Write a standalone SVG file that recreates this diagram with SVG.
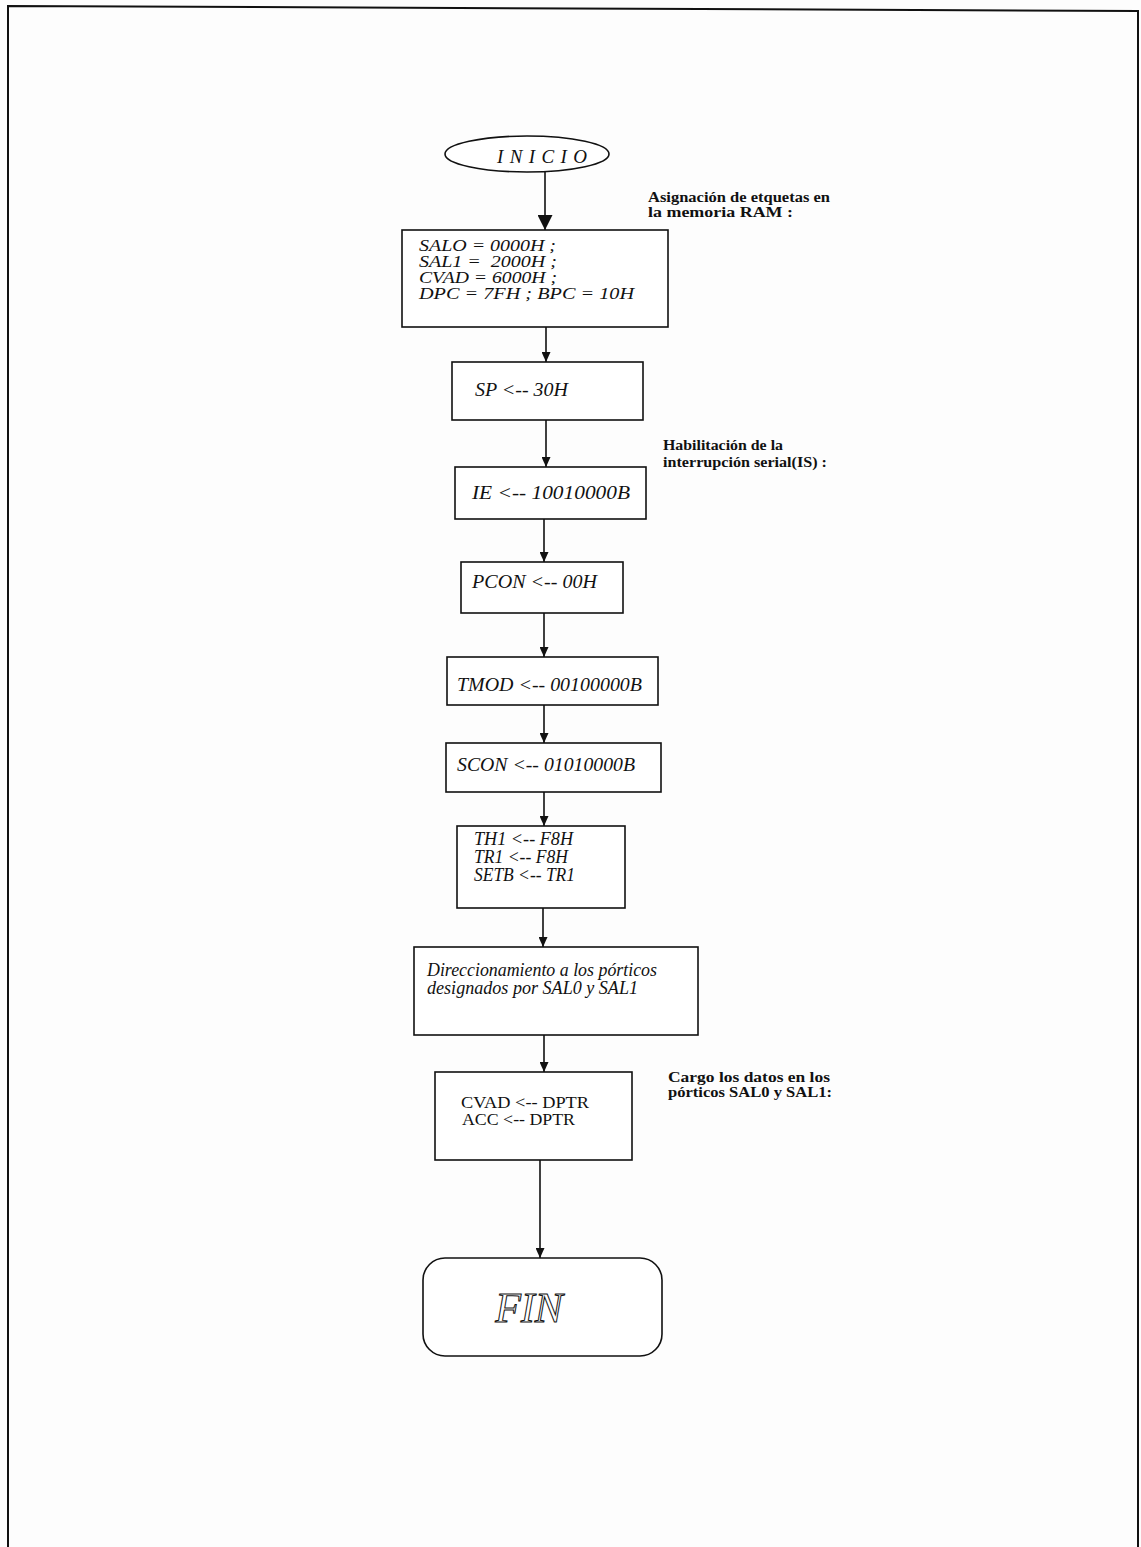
<svg xmlns="http://www.w3.org/2000/svg" width="1141" height="1547" viewBox="0 0 1141 1547">
  <style>
    .box { fill: #fff; stroke: #111; stroke-width: 1.6; }
    .edge { stroke: #111; stroke-width: 1.6; fill: none; }
    .lbl { font-family: "Liberation Serif", "Times New Roman", serif; font-style: italic; font-size: 19px; fill: #111; }
    .multi { font-size: 16.5px; }
    .up { font-family: "Liberation Serif", "Times New Roman", serif; font-size: 17px; fill: #111; }
    .note { font-family: "Liberation Serif", "Times New Roman", serif; font-weight: bold; font-size: 14.5px; fill: #111; }
    .frame { stroke: #111; stroke-width: 2; fill: none; }
  </style>
  <defs>
    <marker id="headL" markerWidth="16" markerHeight="16" refX="7.5" refY="15" orient="0" markerUnits="userSpaceOnUse">
      <polygon points="0,0 15,0 7.5,15" fill="#111"/>
    </marker>
    <marker id="headS" markerWidth="12" markerHeight="12" refX="4.5" refY="10" orient="0" markerUnits="userSpaceOnUse">
      <polygon points="0,0 9,0 4.5,10" fill="#111"/>
    </marker>
  </defs>

  <rect width="1141" height="1547" fill="#fdfdfd"/>

  <!-- page frame -->
  <g id="frame">
    <path class="frame" d="M8,1547 L8,6 L1138,11 L1138,1547"/>
  </g>

  <!-- connectors -->
  <g id="connectors">
    <line class="edge" x1="545" y1="172" x2="545" y2="230" marker-end="url(#headL)"/>
    <line class="edge" x1="546" y1="327" x2="546" y2="362" marker-end="url(#headS)"/>
    <line class="edge" x1="546" y1="420" x2="546" y2="467" marker-end="url(#headS)"/>
    <line class="edge" x1="544" y1="519" x2="544" y2="562" marker-end="url(#headS)"/>
    <line class="edge" x1="544" y1="613" x2="544" y2="657" marker-end="url(#headS)"/>
    <line class="edge" x1="544" y1="705" x2="544" y2="743" marker-end="url(#headS)"/>
    <line class="edge" x1="544" y1="792" x2="544" y2="826" marker-end="url(#headS)"/>
    <line class="edge" x1="543" y1="908" x2="543" y2="947" marker-end="url(#headS)"/>
    <line class="edge" x1="544" y1="1035" x2="544" y2="1072" marker-end="url(#headS)"/>
    <line class="edge" x1="540" y1="1160" x2="540" y2="1258" marker-end="url(#headS)"/>
  </g>

  <!-- start -->
  <g id="inicio">
    <ellipse class="box" cx="527" cy="154" rx="82" ry="18"/>
    <text class="lbl" x="497" y="163" textLength="90" lengthAdjust="spacing">INICIO</text>
  </g>

  <g id="note-ram">
    <text class="note" x="648" y="202" textLength="182" lengthAdjust="spacingAndGlyphs">Asignación de etquetas en</text>
    <text class="note" x="648" y="217" textLength="145" lengthAdjust="spacingAndGlyphs">la memoria RAM :</text>
  </g>

  <g id="labels">
    <rect class="box" x="402" y="230" width="266" height="97"/>
    <text class="lbl multi" x="419" y="251" textLength="137" lengthAdjust="spacingAndGlyphs">SALO = 0000H ;</text>
    <text class="lbl multi" x="419" y="267" textLength="138" lengthAdjust="spacingAndGlyphs" xml:space="preserve">SAL1 =  2000H ;</text>
    <text class="lbl multi" x="419" y="283" textLength="138" lengthAdjust="spacingAndGlyphs">CVAD = 6000H ;</text>
    <text class="lbl multi" x="419" y="299" textLength="215" lengthAdjust="spacingAndGlyphs">DPC = 7FH ; BPC = 10H</text>
  </g>

  <g id="sp">
    <rect class="box" x="452" y="362" width="191" height="58"/>
    <text class="lbl" x="475" y="396" textLength="93" lengthAdjust="spacingAndGlyphs">SP &lt;-- 30H</text>
  </g>

  <g id="note-is">
    <text class="note" x="663" y="450" textLength="120" lengthAdjust="spacingAndGlyphs">Habilitación de la</text>
    <text class="note" x="663" y="467" textLength="164" lengthAdjust="spacingAndGlyphs">interrupción serial(IS) :</text>
  </g>

  <g id="ie">
    <rect class="box" x="455" y="467" width="191" height="52"/>
    <text class="lbl" x="472" y="499" textLength="158" lengthAdjust="spacingAndGlyphs">IE &lt;-- 10010000B</text>
  </g>

  <g id="pcon">
    <rect class="box" x="461" y="562" width="162" height="51"/>
    <text class="lbl" x="472" y="588" textLength="125" lengthAdjust="spacingAndGlyphs">PCON &lt;-- 00H</text>
  </g>

  <g id="tmod">
    <rect class="box" x="447" y="657" width="211" height="48"/>
    <text class="lbl" x="457" y="691" textLength="185" lengthAdjust="spacingAndGlyphs">TMOD &lt;-- 00100000B</text>
  </g>

  <g id="scon">
    <rect class="box" x="446" y="743" width="215" height="49"/>
    <text class="lbl" x="457" y="771" textLength="178" lengthAdjust="spacingAndGlyphs">SCON &lt;-- 01010000B</text>
  </g>

  <g id="timer">
    <rect class="box" x="457" y="826" width="168" height="82"/>
    <text class="lbl" x="474" y="845" font-size="14" textLength="99" lengthAdjust="spacingAndGlyphs">TH1 &lt;-- F8H</text>
    <text class="lbl" x="474" y="863" font-size="14" textLength="94" lengthAdjust="spacingAndGlyphs">TR1 &lt;-- F8H</text>
    <text class="lbl" x="474" y="881" font-size="14" textLength="101" lengthAdjust="spacingAndGlyphs">SETB &lt;-- TR1</text>
  </g>

  <g id="direccionamiento">
    <rect class="box" x="414" y="947" width="284" height="88"/>
    <text class="lbl" x="427" y="976" font-size="16" textLength="230" lengthAdjust="spacingAndGlyphs">Direccionamiento a los pórticos</text>
    <text class="lbl" x="427" y="994" font-size="16" textLength="211" lengthAdjust="spacingAndGlyphs">designados por SAL0 y SAL1</text>
  </g>

  <g id="note-carga">
    <text class="note" x="668" y="1082" textLength="162" lengthAdjust="spacingAndGlyphs">Cargo los datos en los</text>
    <text class="note" x="668" y="1097" textLength="164" lengthAdjust="spacingAndGlyphs">pórticos SAL0 y SAL1:</text>
  </g>

  <g id="carga">
    <rect class="box" x="435" y="1072" width="197" height="88"/>
    <text class="up" x="461" y="1108" textLength="128" lengthAdjust="spacingAndGlyphs">CVAD &lt;-- DPTR</text>
    <text class="up" x="462" y="1125" textLength="113" lengthAdjust="spacingAndGlyphs">ACC &lt;-- DPTR</text>
  </g>

  <!-- end -->
  <g id="fin">
    <rect class="box" x="423" y="1258" width="239" height="98" rx="22" ry="22"/>
    <text x="529" y="1322" text-anchor="middle" font-family="Liberation Serif, Times New Roman, serif" font-style="italic" font-size="42" fill="#fff" stroke="#111" stroke-width="1">FIN</text>
  </g>
</svg>
